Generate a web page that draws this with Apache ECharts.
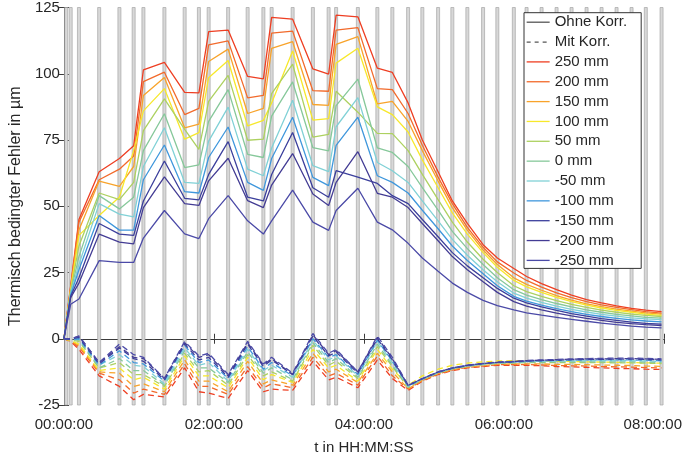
<!DOCTYPE html>
<html>
<head>
<meta charset="utf-8">
<script src="https://cdn.jsdelivr.net/npm/echarts@6/dist/echarts.min.js"></script>
<style>
  html, body { margin: 0; padding: 0; background: #fff; }
  #chart { width: 685px; height: 460px; }
</style>
</head>
<body>
<div id="chart"></div>
<script>
// Messzeitpunkte in Stunden
const T = [0, 0.09, 0.2, 0.47, 0.74, 0.93, 1.06, 1.34, 1.61, 1.80, 1.93, 2.19, 2.45, 2.66, 2.77, 3.05, 3.32, 3.53, 3.63, 3.92,
  4.18, 4.38, 4.59, 4.78, 4.99, 5.18, 5.38, 5.59, 5.78, 6.00, 6.17, 6.37, 6.57, 6.77, 6.97, 7.17, 7.37, 7.57, 7.76, 7.97]

// graue Balken (Messungen)
const BAR_T = [0.03, 0.09, 0.2, 0.47, 0.74, 0.93, 1.06, 1.34, 1.61, 1.80, 1.93, 2.19, 2.45, 2.66, 2.77, 3.05, 3.32, 3.53, 3.63, 3.92,
  4.18, 4.38, 4.59, 4.78, 4.99, 5.18, 5.38, 5.59, 5.78, 6.00, 6.17, 6.37, 6.57, 6.77, 6.97, 7.17, 7.37, 7.57, 7.76, 7.97]

const POS_LABELS = ['250 mm', '200 mm', '150 mm', '100 mm', '50 mm', '0 mm', '-50 mm', '-100 mm', '-150 mm', '-200 mm', '-250 mm']

// Ohne Korr.
const s250 = [0, 20, 45, 63, 68, 72.8, 101.5, 104.3, 93, 92.8, 115.9, 116.5, 99, 98.1, 121.3, 120.6, 101.8, 99.9, 122.1, 121.5, 102.1, 100.5, 89, 75, 63, 52, 43.5, 35.5, 30.5, 26.5, 23.5, 20.8, 18.5, 16.5, 14.8, 13.5, 12.4, 11.5, 10.8, 10.2]
const s200 = [0, 19.5, 44, 60, 64, 69, 97, 100.6, 84.6, 86.9, 110.9, 112.4, 90.9, 91.8, 115.3, 116.1, 93.6, 93.4, 116.5, 117.4, 94.4, 94, 85, 73, 61, 51, 42, 34.5, 29, 24.8, 22, 19.5, 17.3, 15.5, 14, 12.8, 11.8, 11, 10.2, 9.7]
const s150 = [0, 19, 41, 59.5, 57.5, 65, 91.8, 98.6, 79.6, 81, 104.6, 109.3, 85, 86.9, 109.6, 112.1, 88.4, 88.1, 111.1, 114, 88.6, 89.6, 82, 71, 59.5, 49.5, 41, 33.5, 28, 23, 20.5, 18.3, 16.3, 14.6, 13.2, 12.1, 11.2, 10.4, 9.8, 9.3]
const s100 = [0, 18.5, 39, 46.5, 53.5, 71, 86, 94.4, 75.3, 77.8, 98.5, 105, 80.3, 82.4, 89, 108.6, 82.5, 83.1, 104, 109.6, 87.5, 84.6, 78, 67.5, 57, 47.5, 39.5, 32.5, 27, 22, 19.6, 17.5, 15.6, 14, 12.7, 11.6, 10.7, 10, 9.3, 8.8]
const s50 = [0, 18, 35, 55, 52.5, 59, 78.5, 90.5, 79, 71.5, 89.6, 99.4, 74.9, 75.3, 92.5, 103.6, 76.1, 77.1, 93.4, 85.5, 77.5, 77.4, 71, 62, 52.5, 44, 36.5, 30, 25, 20, 17.8, 16, 14.4, 13, 11.8, 10.8, 10, 9.3, 8.8, 8.4]
const s0 = [0, 17.5, 31, 54, 49, 53.4, 71, 84.9, 64.6, 65.6, 82, 94, 69.6, 68.4, 84, 96.9, 72.1, 70.9, 88, 98, 72, 70.3, 65, 57, 48.5, 40.5, 34, 28, 23, 18.5, 16.5, 14.8, 13.3, 12, 10.9, 10, 9.2, 8.6, 8.1, 7.8]
const sM50 = [0, 17, 28, 51, 47, 46, 65, 79.6, 59, 58.6, 74.6, 87.4, 64, 61.5, 72, 90, 65.3, 63.1, 80, 91, 66.5, 63.4, 59, 52, 44.5, 37.5, 31.5, 26, 21.5, 17.2, 15.3, 13.7, 12.3, 11.1, 10.1, 9.2, 8.5, 7.9, 7.5, 7.2]
const sM100 = [0, 16.5, 26, 46.5, 41, 41, 60, 73.1, 55.5, 55, 68.4, 79.9, 59, 56, 68, 83.6, 60.9, 57.8, 73, 83.6, 61.5, 59, 55, 48.5, 41.5, 35, 29.5, 24.5, 20, 16, 14.2, 12.7, 11.4, 10.2, 9.2, 8.4, 7.7, 7.1, 6.7, 6.4]
const sM150 = [0, 16, 23, 43.5, 39.5, 39, 52, 67.1, 53, 52.4, 62, 74.4, 53.4, 52, 62, 77.8, 57, 53.4, 63.4, 61, 58.6, 54, 51, 45, 38.5, 32.5, 27.5, 23, 19, 15.3, 13.5, 12, 10.7, 9.5, 8.5, 7.6, 6.9, 6.3, 5.8, 5.5]
const sM200 = [0, 15.5, 21, 39.5, 36.5, 35.8, 49.5, 61.1, 51, 50.3, 59.6, 68.1, 52.1, 49.5, 58, 69.9, 54.6, 50.3, 59, 70.6, 54.9, 53.4, 49.5, 43.5, 37, 31, 26, 21.5, 17.5, 14, 12.3, 10.9, 9.7, 8.6, 7.7, 6.9, 6.2, 5.7, 5.3, 5]
const sM250 = [0, 13, 15, 29.5, 28.8, 28.8, 38, 48.4, 39.6, 37.8, 45.3, 54, 44.5, 39.5, 44.5, 56.1, 44, 40.9, 48.4, 56.8, 44, 41.1, 36, 30.5, 25.5, 21, 17.5, 14.5, 12.5, 10.9, 9.8, 8.9, 8.1, 7.3, 6.6, 5.9, 5.3, 4.8, 4.4, 4.1]

// Mit Korr.
const d250 = [0, -1, -4, -14, -18, -23, -21, -22, -11, -20, -20.5, -22.5, -12, -20, -19, -19.5, -8.5, -15.5, -14.5, -18.5, -8, -15, -19.5, -16, -13.5, -12, -11, -10.5, -10, -10, -10, -10.2, -10.5, -10.6, -10.8, -11, -11.2, -11.3, -11.5, -11.6]
const d200 = [0, -1, -3, -13, -15.5, -20.5, -19, -21, -9.5, -18, -18, -21, -10.5, -18.5, -17, -18.5, -7, -14, -13, -17.5, -6.5, -14, -19, -15.8, -13.3, -11.8, -10.8, -10.3, -9.8, -9.8, -9.7, -9.9, -10.1, -10.2, -10.3, -10.5, -10.6, -10.7, -10.9, -11]
const d150 = [0, -0.8, -2.5, -12.5, -13, -18, -17, -20, -8, -16, -16, -20, -8.5, -17, -15.5, -17.5, -5.5, -12.5, -11.5, -16.5, -5.5, -12.5, -18.9, -15.7, -13.2, -11.7, -10.7, -10.1, -9.6, -9.5, -9.5, -9.5, -9.7, -9.7, -9.8, -9.9, -10, -10.1, -10.3, -10.4]
const d100 = [0, -0.6, -2, -12, -11, -15.5, -14.5, -19, -6.5, -14, -14, -18.5, -7, -15.5, -13.5, -16.5, -4, -11, -10, -16, -4, -11.5, -17.5, -14, -11.5, -10, -9.2, -8.7, -8.4, -8.3, -8.3, -8.4, -8.5, -8.6, -8.7, -8.8, -8.9, -9, -9.1, -9.2]
const d50 = [0, -0.5, -1, -11, -9, -13.5, -13.5, -18, -5.5, -12.5, -12, -17.5, -6, -14, -12.5, -16, -2.5, -10, -8.5, -15, -3, -10.5, -18.4, -15.4, -12.9, -11.4, -10.4, -9.8, -9.3, -9.2, -9, -9, -9, -9, -9, -9, -9.1, -9.1, -9.2, -9.4]
const d0 = [0, -0.4, -0.5, -11, -7.5, -12, -12, -17.5, -4.5, -11, -11, -16.5, -5, -13, -11, -15.5, -1.5, -9, -7.5, -14.5, -2, -10, -18.2, -15.3, -12.8, -11.3, -10.3, -9.7, -9.2, -9, -8.8, -8.8, -8.7, -8.7, -8.7, -8.7, -8.7, -8.7, -8.8, -9]
const dM50 = [0, -0.3, 0, -10, -6, -10, -10.5, -17, -3.5, -10, -9, -16, -4, -12, -10, -14.5, -0.5, -8, -6.5, -14, -1, -9, -18, -15.2, -12.7, -11.2, -10.2, -9.6, -9.1, -8.9, -8.6, -8.5, -8.5, -8.4, -8.3, -8.3, -8.3, -8.3, -8.4, -8.6]
const dM100 = [0, -0.2, 0, -10, -4.5, -9, -9.5, -16, -2.5, -9, -8, -15, -3, -11.5, -9, -14, 0, -7, -6, -13.5, -0.5, -8.5, -17.8, -15.2, -12.7, -11.2, -10.2, -9.5, -9, -8.8, -8.5, -8.4, -8.2, -8.1, -8, -8, -8, -8, -8.1, -8.3]
const dM150 = [0, -0.1, 0.5, -9.5, -3.5, -7.5, -8.5, -15.5, -2, -8, -7, -14.5, -2, -10.5, -8, -13.5, 1, -6.5, -5, -13, 0, -8, -17.7, -15.1, -12.6, -11.1, -10.1, -9.4, -8.9, -8.7, -8.4, -8.2, -8.1, -7.9, -7.8, -7.8, -7.7, -7.7, -7.8, -8]
const dM200 = [0, 0, 1, -9, -3, -7, -7.5, -15, -1.5, -7, -6, -14, -1.5, -10, -7.5, -13.5, 1.5, -6, -4.5, -12.5, 0.5, -7.5, -17.6, -15, -12.5, -11, -10, -9.3, -8.9, -8.6, -8.3, -8.1, -7.9, -7.7, -7.6, -7.6, -7.5, -7.5, -7.6, -7.8]
const dM250 = [0, 0, 1, -9, -2, -6, -7, -15, -1, -6.5, -5.5, -13.5, -1, -9.5, -7, -13, 2, -5.5, -4, -12.5, 1, -7, -17.5, -15, -12.5, -11, -10, -9.3, -8.8, -8.5, -8.2, -8, -7.8, -7.6, -7.5, -7.4, -7.3, -7.3, -7.4, -7.6]

const OHNE = [s250, s200, s150, s100, s50, s0, sM50, sM100, sM150, sM200, sM250]
const MIT = [d250, d200, d150, d100, d50, d0, dM50, dM100, dM150, dM200, dM250]

const COLORS = ['#EE3E22', '#F26A2B', '#F8A32A', '#F7E82B', '#ADD160', '#86C89A', '#80D1D6', '#3F97DC', '#3B3F9C', '#433C94', '#4B4AA7']
const FONT = '"Liberation Sans", Arial, sans-serif'
const TXT = '#262626'
const AX = '#3a3a3a'
const DASH = [6, 4]

const pairs = vals => T.map((t, i) => [t, vals[i]])

const barSeries = {
  type: 'custom',
  silent: true,
  z: 1,
  data: BAR_T.map(t => [t, 0]),
  encode: { x: 0, y: 1 },
  renderItem: (params, api) => {
    const x = api.coord([api.value(0), 0])[0]
    const cs = params.coordSys
    return {
      type: 'rect',
      shape: { x: x - 1.5, y: cs.y, width: 3, height: cs.height },
      style: { fill: '#d8d8d8', stroke: '#a6a6a6', lineWidth: 0.7 },
    }
  },
}

const series = [barSeries,
  { name: 'Ohne Korr.', type: 'line', data: [], symbol: 'none', color: '#555', lineStyle: { width: 1.3, color: '#555' } },
  { name: 'Mit Korr.', type: 'line', data: [], symbol: 'none', color: '#555', lineStyle: { width: 1.3, color: '#555', type: DASH } },
]
OHNE.forEach((vals, k) => {
  series.push({
    name: POS_LABELS[k], type: 'line', data: pairs(vals), symbol: 'none', z: 3,
    color: COLORS[k], lineStyle: { width: 1.3, color: COLORS[k] },
  })
})
MIT.forEach((vals, k) => {
  series.push({
    name: POS_LABELS[k], type: 'line', data: pairs(vals), symbol: 'none', z: 3,
    color: COLORS[k], lineStyle: { width: 1.3, color: COLORS[k], type: DASH },
  })
})

const hms = v => (v < 10 ? '0' : '') + v + ':00:00'

const option = {
  animation: false,
  backgroundColor: '#fff',
  textStyle: { fontFamily: FONT },
  grid: { left: 50, right: 19, top: 6, bottom: 54 },
  legend: {
    data: [
      { name: 'Ohne Korr.' },
      { name: 'Mit Korr.', lineStyle: { type: [4, 4] } },
      ...POS_LABELS.map(n => ({ name: n })),
    ],
    orient: 'vertical',
    left: 524,
    top: 12.7,
    itemWidth: 23,
    itemHeight: 14,
    itemGap: 4.85,
    padding: [2, 14, 0.5, 2],
    backgroundColor: '#fff',
    borderColor: '#333',
    borderWidth: 1,
    borderRadius: 0,
    selectedMode: false,
    itemStyle: { opacity: 0 },
    lineStyle: { width: 1.3 },
    textStyle: { fontSize: 15, color: TXT, fontFamily: FONT, lineHeight: 14 },
  },
  xAxis: [
    {
      type: 'value', min: 0, max: 8, interval: 2,
      axisLine: { show: true, lineStyle: { color: AX, width: 1 } },
      axisTick: { show: true, inside: true, length: 5, lineStyle: { color: AX } },
      splitLine: { show: false },
      axisLabel: {
        fontSize: 15, color: TXT, fontFamily: FONT, margin: 12,
        formatter: v => v === 6 ? '{a|' + hms(v) + '}' : v === 8 ? '{b|' + hms(v) + '}' : hms(v),
        rich: {
          a: { fontSize: 15, color: TXT, fontFamily: FONT, padding: [0, 20, 0, 0] },
          b: { fontSize: 15, color: TXT, fontFamily: FONT, padding: [0, 22, 0, 0] },
        },
      },
      name: 't in HH:MM:SS', nameLocation: 'middle', nameGap: 35,
      nameTextStyle: { fontSize: 15, color: TXT, fontFamily: FONT },
    },
    {
      type: 'value', min: 0, max: 8, interval: 2, position: 'top',
      axisLine: { show: true, lineStyle: { color: AX, width: 1 } },
      axisTick: { show: true, inside: true, length: 5, lineStyle: { color: AX } },
      axisLabel: { show: false }, splitLine: { show: false },
    },
  ],
  yAxis: [
    {
      type: 'value', min: -25, max: 125, interval: 25,
      axisLine: { show: true, lineStyle: { color: AX, width: 1 } },
      axisTick: { show: true, inside: true, length: 5, lineStyle: { color: AX } },
      splitLine: { show: false },
      axisLabel: { fontSize: 15, color: TXT, fontFamily: FONT, margin: 4 },
      name: 'Thermisch bedingter Fehler in µm', nameLocation: 'middle', nameGap: 29, nameRotate: 90,
      nameTextStyle: { fontSize: 16, color: TXT, fontFamily: FONT },
    },
    {
      type: 'value', min: -25, max: 125, interval: 25, position: 'right',
      axisLine: { show: true, lineStyle: { color: AX, width: 1 } },
      axisTick: { show: true, inside: true, length: 5, lineStyle: { color: AX } },
      axisLabel: { show: false }, splitLine: { show: false },
    },
  ],
  series: series,
}

const chart = echarts.init(document.getElementById('chart'), null, { renderer: 'canvas' })
chart.setOption(option)
</script>
</body>
</html>
